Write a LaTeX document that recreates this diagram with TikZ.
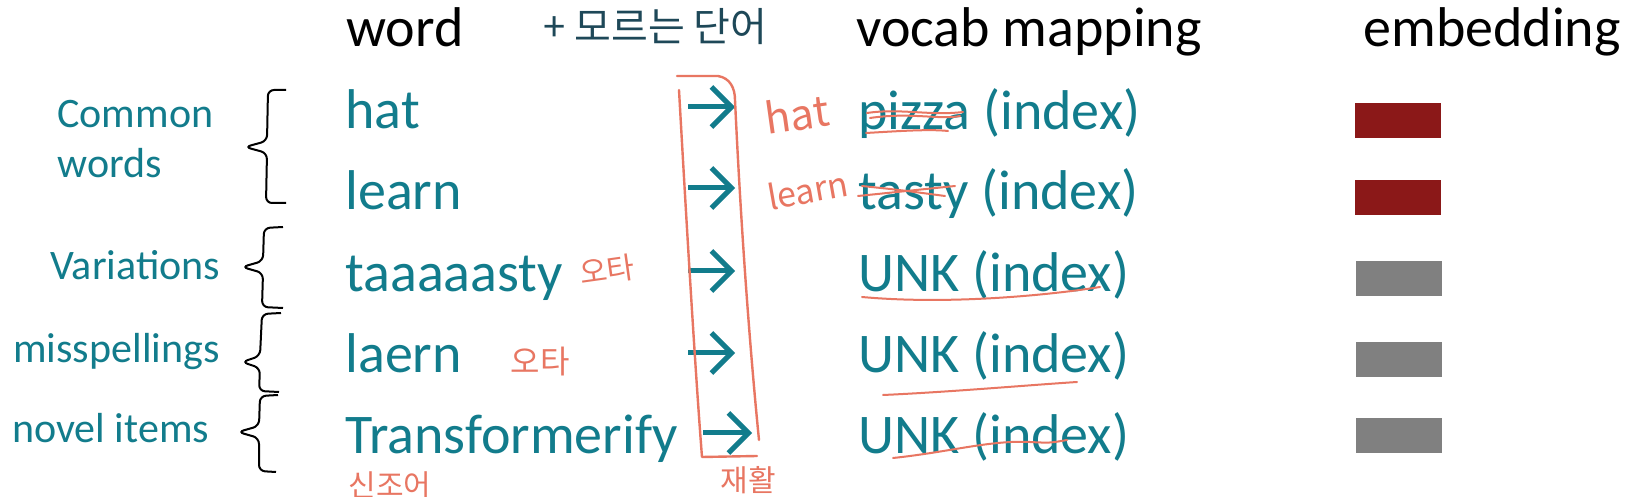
\documentclass[tikz,border=0pt]{standalone}
\usepackage{fontspec}
\setmainfont{Carlito}
\newfontfamily\kr{Noto Sans CJK KR}
\usetikzlibrary{arrows.meta}
\definecolor{tealtxt}{RGB}{18,124,140}
\definecolor{penred}{RGB}{232,118,98}
\definecolor{inkblue}{RGB}{30,72,88}
\definecolor{embred}{RGB}{139,24,24}
\definecolor{embgray}{RGB}{128,128,128}
\begin{document}
\begin{tikzpicture}[x=0.5pt,y=-0.5pt,
  wordtxt/.style={anchor=base west, inner sep=0pt, text=tealtxt, font=\fontsize{28}{32}\selectfont},
  headtxt/.style={anchor=base west, inner sep=0pt, text=black, font=\fontsize{28}{32}\selectfont},
  cattxt/.style={anchor=base west, inner sep=0pt, text=tealtxt, font=\fontsize{21}{25}\selectfont},
  arr/.style={draw=tealtxt, line width=2.5pt, -{Straight Barb[length=10pt,width=20pt]}},
  bracepath/.style={draw=black, line width=1pt, rounded corners=3pt},
  annot/.style={draw=penred, line width=1pt, line cap=round, line join=round},
  handtxt/.style={inner sep=0pt, text=penred, font=\kr},
  ebox/.style={minimum width=43pt, minimum height=17.5pt, inner sep=0pt, draw=none},
]
\clip (0,0) rectangle (1646,497);
\fill[white] (0,0) rectangle (1646,497);

% headers
\node[headtxt] (hword) at (346,47) {word};
\node[headtxt] (hvocab) at (856,47) {vocab mapping};
\node[headtxt] (hemb) at (1363,47) {embedding};
\node[anchor=west, inner sep=0pt, text=inkblue, font=\kr\fontsize{20}{22}\selectfont] (hnote) at (543,27) {+ 모르는 단어};

% category labels
\node[cattxt] (cw1) at (57,128) {Common};
\node[cattxt] (cw2) at (57,178) {words};
\node[cattxt] (cvar) at (50,280) {Variations};
\node[cattxt] (cmis) at (13,363) {misspellings};
\node[cattxt] (cnov) at (12,443) {novel items};

% braces
\coordinate (b1t) at (286,90);  \coordinate (b1m) at (245,147); \coordinate (b1b) at (286,203);
\coordinate (b2t) at (283,227); \coordinate (b2m) at (242,267); \coordinate (b2b) at (283,308);
\coordinate (b3t) at (281,313); \coordinate (b3m) at (242,362); \coordinate (b3b) at (279,392);
\coordinate (b4t) at (278,395); \coordinate (b4m) at (238,432); \coordinate (b4b) at (276,472);
\draw[bracepath] (b1t) -- (268,90) -- (267,141) -- (b1m) -- (267,153) -- (266,203) -- (b1b);
\draw[bracepath] (b2t) -- (264,228) -- (263,261) -- (b2m) -- (263,273) -- (262,307) -- (b2b);
\draw[bracepath] (b3t) -- (262,314) -- (260,356) -- (b3m) -- (260,368) -- (259,391) -- (b3b);
\draw[bracepath] (b4t) -- (260,396) -- (259,426) -- (b4m) -- (259,438) -- (259,471) -- (b4b);

% words
\node[wordtxt] (w1) at (345,129) {hat};
\node[wordtxt] (w2) at (345,210) {learn};
\node[wordtxt] (w3) at (345,292) {taaaaasty};
\node[wordtxt] (w4) at (345,373) {laern};
\node[wordtxt] (w5) at (345,454) {Transformerify};

% vocab
\node[wordtxt] (v1) at (858,130) {pizza (index)};
\node[wordtxt] (v2) at (858,210) {tasty (index)};
\node[wordtxt] (v3) at (858,292) {UNK (index)};
\node[wordtxt] (v4) at (858,373) {UNK (index)};
\node[wordtxt] (v5) at (858,454) {UNK (index)};

% arrows
\coordinate (a1s) at (688,107); \coordinate (a1e) at (735,107);
\coordinate (a2s) at (688,188); \coordinate (a2e) at (735,188);
\coordinate (a3s) at (688,271); \coordinate (a3e) at (735,271);
\coordinate (a4s) at (688,353); \coordinate (a4e) at (735,353);
\coordinate (a5s) at (703,433); \coordinate (a5e) at (752,433);
\foreach \i in {1,...,5} {\draw[arr] (a\i s) -- (a\i e);}

% embeddings
\node[ebox, fill=embred]  (e1) at (1398,120.5) {};
\node[ebox, fill=embred]  (e2) at (1398,198) {};
\node[ebox, fill=embgray] (e3) at (1398.5,278.5) {};
\node[ebox, fill=embgray] (e4) at (1398.5,360) {};
\node[ebox, fill=embgray] (e5) at (1398.5,436) {};

% handwritten red annotations
\draw[annot, line width=1.2pt] (679,90) .. controls (688,250) and (696,380) .. (702,457) -- (757,456);
\draw[annot, line width=1.2pt] (677,76) -- (718,76) .. controls (730,78) and (735,88) .. (735,100) .. controls (742,250) and (752,370) .. (759,440);
\node[handtxt, font=\kr\fontsize{21}{23}\selectfont, rotate=8] (nhat) at (797,114) {hat};
\node[handtxt, font=\kr\fontsize{17}{19}\selectfont, rotate=10] (nlearn) at (808,190) {learn};
\node[handtxt, font=\kr\fontsize{15}{17}\selectfont, rotate=8] (nty1) at (607,270) {오타};
\node[handtxt, font=\kr\fontsize{16}{18}\selectfont] (nty2) at (540,362) {오타};
\node[handtxt, font=\kr\fontsize{15}{17}\selectfont] (nnew) at (390,485) {신조어};
\node[handtxt, font=\kr\fontsize{15}{17}\selectfont] (nre) at (748,480) {재활};

% strikes / underlines
\draw[annot] (867,113) .. controls (900,108) and (930,116) .. (963,112);
\draw[annot] (870,118) .. controls (910,112) and (940,120) .. (960,116);
\draw[annot] (866,133) .. controls (900,131) and (930,129) .. (948,131);
\draw[annot] (858,196) -- (955,186);
\draw[annot] (862,186) .. controls (900,190) .. (945,196);
\draw[annot] (862,297) .. controls (950,305) and (1050,295) .. (1100,287);
\draw[annot] (883,395) .. controls (950,392) and (1030,385) .. (1077,382);
\draw[annot] (893,458) .. controls (950,452) and (990,440) .. (1030,442) .. controls (1050,443) .. (1067,440);
\end{tikzpicture}
\end{document}
